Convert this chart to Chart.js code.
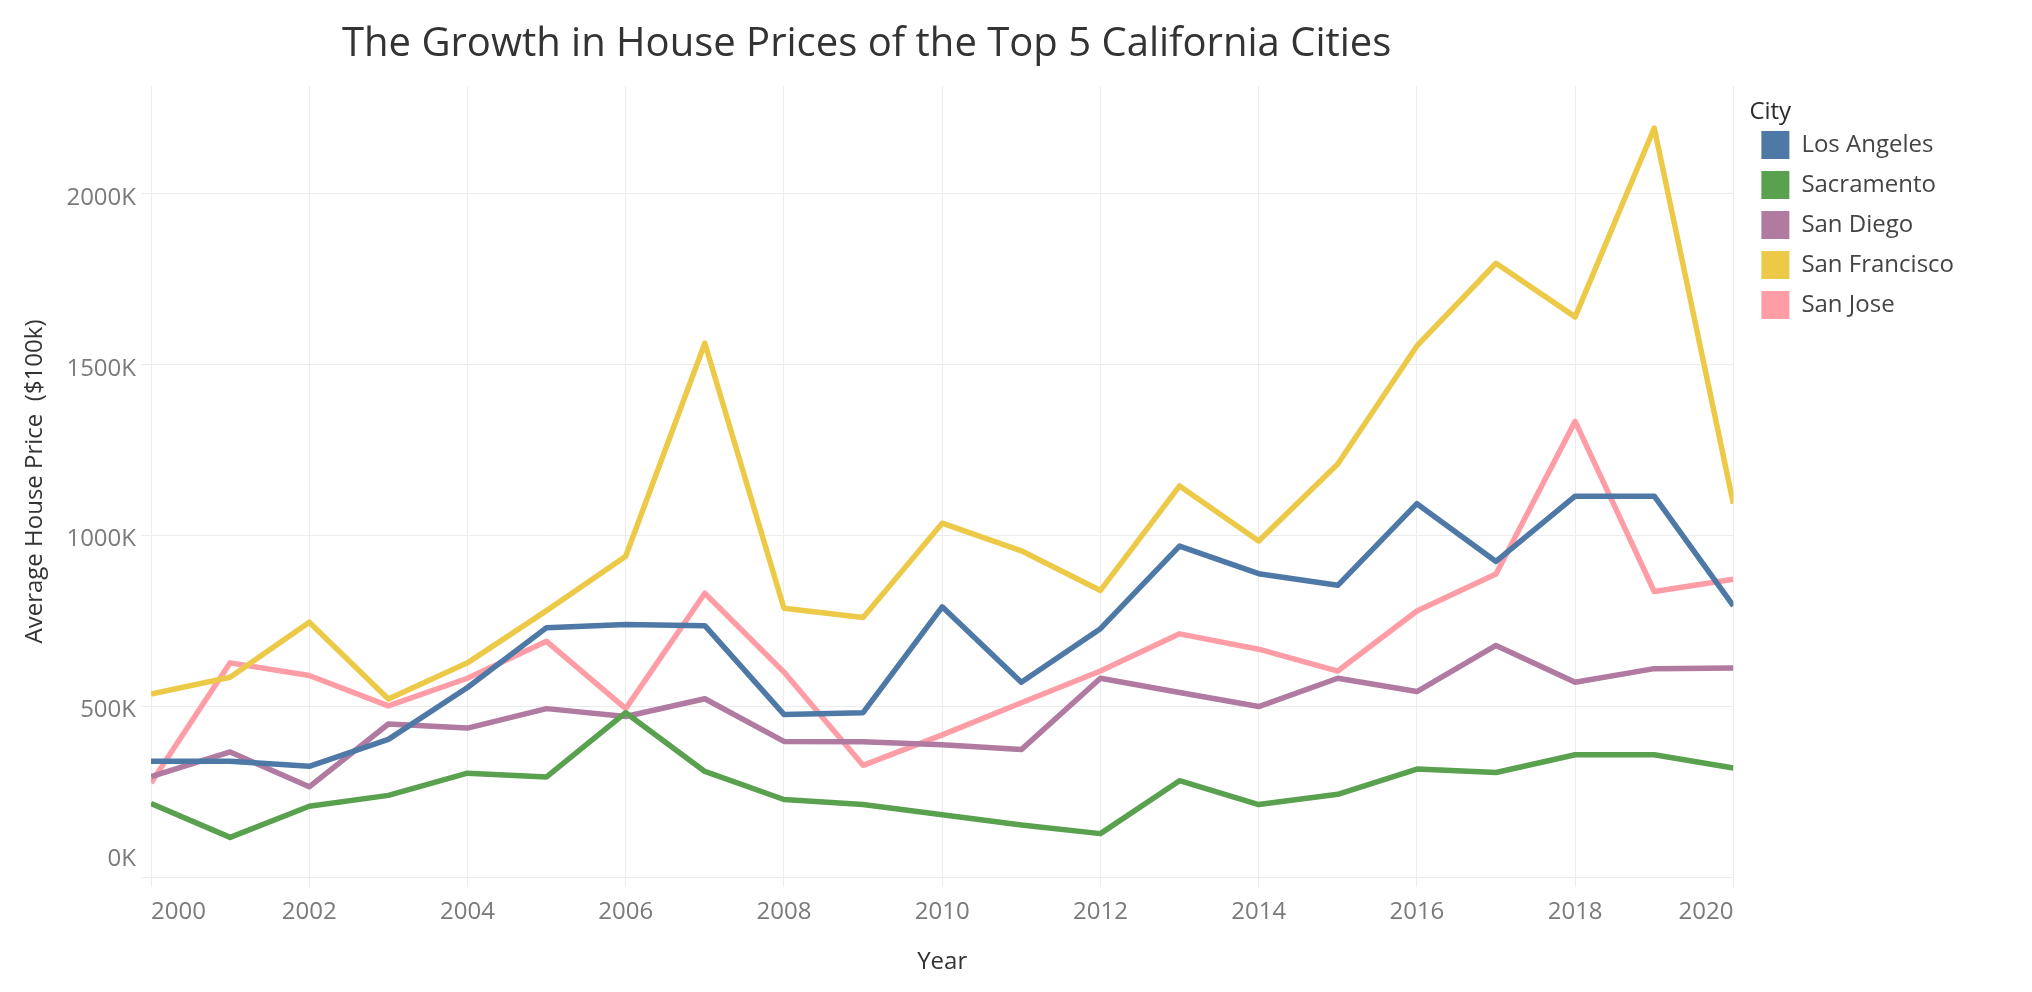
<!DOCTYPE html>
<html>
<head>
<meta charset="utf-8">
<script src="https://cdn.jsdelivr.net/npm/chart.js@4.4.0/dist/chart.umd.min.js"></script>
<style>
html,body{margin:0;padding:0;background:#fff;}
#wrap{width:2032px;height:992px;position:relative;}
</style>
</head>
<body>
<div id="wrap"><canvas id="c"></canvas></div>
<script>
// ---- data (values in thousands of dollars) ----
const years = [2000,2001,2002,2003,2004,2005,2006,2007,2008,2009,2010,2011,2012,2013,2014,2015,2016,2017,2018,2019,2020];
const cities = ['Los Angeles','Sacramento','San Diego','San Francisco','San Jose'];
const losAngeles   = [339,339,324,403,555,730,739,736,476,481,791,570,727,969,888,854,1093,924,1115,1115,794];
const sacramento   = [215,116,207,239,304,293,481,309,227,212,182,152,127,282,212,242,316,306,358,358,319];
const sanDiego     = [294,366,264,448,436,493,470,522,397,396,387,373,582,540,499,582,543,678,570,610,612];
const sanFrancisco = [536,585,746,521,627,780,939,1563,787,760,1036,955,839,1145,984,1209,1555,1797,1640,2193,1093];
const sanJose      = [275,627,590,501,582,690,493,831,600,327,416,510,603,712,667,603,779,887,1334,836,872];
const xTickYears = [2000,2002,2004,2006,2008,2010,2012,2014,2016,2018,2020];
const yTickValues = [0,500,1000,1500,2000];
const colors = ['#4E79A7','#59A14F','#B07AA1','#EDC948','#FF9DA7'];

const seriesList = [losAngeles, sacramento, sanDiego, sanFrancisco, sanJose];
const FONT = "'Open Sans', 'Noto Sans', sans-serif";
const GRID = '#ececec';

const datasets = cities.map((name, i) => ({
  label: name,
  data: years.map((y, j) => ({x: y, y: seriesList[i][j]})),
  borderColor: colors[i],
  backgroundColor: colors[i],
  borderWidth: 5.5,
  pointRadius: 0,
  pointHoverRadius: 0,
  tension: 0,
  borderJoinStyle: 'round',
  fill: false
}));

const placeBlocks = {
  id: 'placeBlocks',
  afterLayout(chart) {
    const ca = chart.chartArea;
    if (chart.titleBlock) {
      chart.titleBlock.left = 0;
      chart.titleBlock.right = ca.right;
    }
    if (chart.legend) {
      const w = chart.legend.width;
      chart.legend.left = ca.right + 16;
      chart.legend.right = chart.legend.left + w;
    }
  },
  beforeDraw(chart) {
    // nudge y tick labels: bottom label kept inside the plot, others slightly below their grid line
    const ys = chart.scales.y;
    const items = ys.getLabelItems();
    items.forEach((it, i) => {
      if (!it._nudged) {
        it.options.translation[1] += (i === 0 ? -18 : 4);
        it._nudged = true;
      }
    });
  }
};

new Chart(document.getElementById('c'), {
  type: 'line',
  data: { datasets },
  plugins: [placeBlocks],
  options: {
    responsive: true,
    maintainAspectRatio: false,
    animation: false,
    layout: { padding: { left: 0, right: 84, top: 0, bottom: 0 } },
    plugins: {
      title: {
        display: true,
        text: 'The Growth in House Prices of the Top 5 California Cities',
        color: '#333333',
        font: { family: FONT, size: 40, weight: 'normal', lineHeight: 1.2 },
        padding: { top: 21, bottom: 17 }
      },
      legend: {
        display: true,
        position: 'right',
        align: 'start',
        fullSize: false,
        title: {
          display: true,
          text: 'City',
          color: '#2a2a2a',
          position: 'start',
          font: { family: FONT, size: 24, weight: 'normal', lineHeight: '17px' },
          padding: { top: 14, bottom: 2 }
        },
        labels: {
          boxWidth: 28,
          boxHeight: 28,
          padding: 12,
          color: '#444444',
          font: { family: FONT, size: 24 },
          generateLabels: chart => Chart.defaults.plugins.legend.labels.generateLabels(chart)
            .map(l => Object.assign(l, { lineWidth: 0, strokeStyle: l.fillStyle }))
        }
      },
      tooltip: { enabled: false }
    },
    scales: {
      x: {
        type: 'linear',
        min: 2000,
        max: 2020,
        afterBuildTicks: s => { s.ticks = xTickYears.map(v => ({value: v})); },
        afterFit: s => { s.height = 115; },
        grid: { color: GRID, lineWidth: 1, drawTicks: true, tickLength: 10 },
        border: { display: true, color: GRID },
        ticks: {
          align: 'inner',
          padding: 11,
          color: '#7a7a7a',
          maxRotation: 0,
          autoSkip: false,
          font: { family: FONT, size: 24 },
          callback: v => String(v)
        },
        title: {
          display: true,
          text: 'Year',
          color: '#333333',
          font: { family: FONT, size: 24 },
          padding: { top: 0, bottom: 15 }
        }
      },
      y: {
        type: 'linear',
        min: 0,
        max: 2316,
        afterBuildTicks: s => { s.ticks = yTickValues.map(v => ({value: v})); },
        afterFit: s => { s.width = 151; },
        grid: { color: GRID, lineWidth: 1, drawTicks: true, tickLength: 10 },
        border: { display: true, color: GRID },
        ticks: {
          padding: 5,
          color: '#7a7a7a',
          font: { family: FONT, size: 24 },
          callback: v => v + 'K'
        },
        title: {
          display: true,
          text: 'Average House Price  ($100k)',
          color: '#333333',
          font: { family: FONT, size: 24 },
          padding: { top: 21, bottom: 0 }
        }
      }
    }
  }
});
</script>
</body>
</html>
